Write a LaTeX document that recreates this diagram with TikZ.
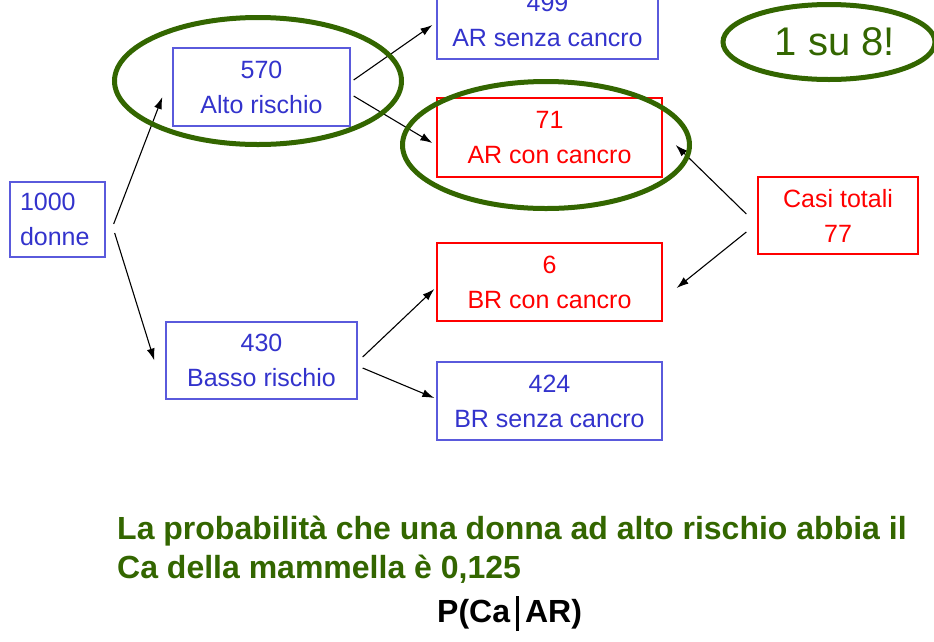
\documentclass[tikz,border=0pt]{standalone}
\usepackage{fontspec}
\setmainfont{Liberation Sans}
\usetikzlibrary{arrows.meta,calc,shapes.geometric}
\definecolor{tblue}{RGB}{51,51,204}
\definecolor{bblue}{RGB}{90,90,220}
\definecolor{tred}{RGB}{255,0,0}
\definecolor{tgreen}{RGB}{51,102,0}
\begin{document}
\begin{tikzpicture}[x=1pt,y=-1pt,
  bluebox/.style={draw=bblue, line width=1.3pt, text=tblue, font=\fontsize{25}{35}\selectfont, align=center, inner sep=0pt},
  redbox/.style={draw=tred, line width=1.3pt, text=tred, font=\fontsize{25}{35}\selectfont, align=center, inner sep=0pt},
  arr/.style={-{Latex[length=12pt,width=8pt]}, line width=1.1pt},
  ring/.style={draw=tgreen, line width=5pt, ellipse, inner sep=0pt}]
\useasboundingbox (0,0) rectangle (934,641);
\clip (0,0) rectangle (934,641);
% boxes
\node[bluebox, minimum width=95pt, minimum height=75pt, text width=75pt, align=left] (n1000) at (57.5,219.5) {1000\\donne};
\node[bluebox, minimum width=177pt, minimum height=78pt] (n570) at (261.5,87) {570\\Alto rischio};
\node[bluebox, minimum width=191pt, minimum height=77pt] (n430) at (261.5,360.5) {430\\Basso rischio};
\node[bluebox, minimum width=221pt, minimum height=78pt] (n499) at (547.5,20) {499\\AR senza cancro};
\node[redbox, minimum width=225pt, minimum height=79pt] (n71) at (549.5,137.5) {71\\AR con cancro};
\node[redbox, minimum width=225pt, minimum height=78pt] (n6) at (549.5,282) {6\\BR con cancro};
\node[bluebox, minimum width=225pt, minimum height=78pt] (n424) at (549.5,401) {424\\BR senza cancro};
\node[redbox, minimum width=160pt, minimum height=77pt] (ncasi) at (838,215.5) {Casi totali\\77};
% arrows
\draw[arr] ($(n1000.east)+(8,4.5)$) -- ($(n570.west)+(-10,10)$);
\draw[arr] ($(n1000.east)+(9,13.5)$) -- ($(n430.west)+(-11,0)$);
\draw[arr] ($(n570.east)+(3,-7)$) -- ($(n499.west)+(-4,5)$);
\draw[arr] ($(n570.east)+(3,9)$) -- ($(n71.west)+(-4,5.5)$);
\draw[arr] ($(n430.east)+(5,-3.5)$) -- ($(n6.west)+(-2,7)$);
\draw[arr] ($(n430.east)+(5,7.5)$) -- ($(n424.west)+(-2,-3)$);
\draw[arr] ($(ncasi.west)+(-11,-1.5)$) -- ($(n71.east)+(13,7.5)$);
\draw[arr] ($(ncasi.west)+(-11,16.5)$) -- ($(n6.east)+(14,6)$);
% highlight rings
\node[ring, minimum width=287pt, minimum height=127pt] (e570) at (258,81) {};
\node[ring, minimum width=287pt, minimum height=127pt] (e71) at (546,145) {};
\node[ring, minimum width=212pt, minimum height=75pt] (e18) at (829,42) {};
\node[text=tgreen, font=\fontsize{40}{44}\selectfont, inner sep=0pt] (t18) at (835,42) {1 su 8!};
% bottom text
\node[text=tgreen, font=\fontsize{32}{39}\bfseries\selectfont, anchor=base west, inner sep=0pt] (l1) at (117,539) {La probabilità che una donna ad alto rischio abbia il};
\node[text=tgreen, font=\fontsize{32}{39}\bfseries\selectfont, anchor=base west, inner sep=0pt] (l2) at (117,578) {Ca della mammella è 0,125};
\node[text=black, font=\fontsize{32}{39}\bfseries\selectfont, anchor=base west, inner sep=0pt] (pca) at (437,622) {P(Ca\hspace{6pt}\rule[-9pt]{3pt}{35pt}\hspace{6pt}AR)};
\end{tikzpicture}
\end{document}
